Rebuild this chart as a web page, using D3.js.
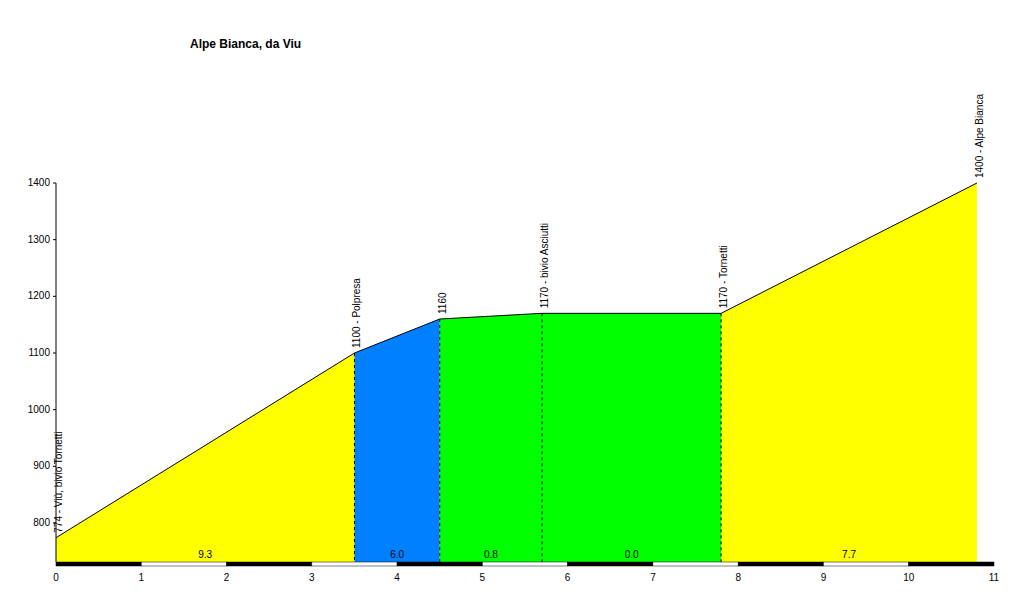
<!DOCTYPE html>
<html><head><meta charset="utf-8">
<script src="https://cdn.jsdelivr.net/npm/d3@7"></script>
<style>body{margin:0;background:#fff}text{font-family:"Liberation Sans",Arial,sans-serif}</style>
</head><body><svg id="chart" width="1024" height="606"></svg>
<script>
const km = [0, 3.5, 4.5, 5.7, 7.8, 10.8];
const alt = [774, 1100, 1160, 1170, 1170, 1400];
const names = ["774 - Viù, bivio Tornetti", "1100 - Polpresa", "1160", "1170 - bivio Asciutti", "1170 - Tornetti", "1400 - Alpe Bianca"];
const grades = ["9.3", "6.0", "0.8", "0.0", "7.7"];
const colors = ["#ffff00", "#0080ff", "#00ff00", "#00ff00", "#ffff00"];
const yTicks = [800, 900, 1000, 1100, 1200, 1300, 1400];

const svg = d3.select("#chart");
const x = d3.scaleLinear().domain([0, 11]).range([56, 994]);
const y = d3.scaleLinear().domain([800, 1400]).range([523, 183]);
const base = 562;

svg.append("text").attr("x", 190).attr("y", 48).attr("font-size", 12).attr("font-weight", "bold").text("Alpe Bianca, da Viu");

for (let i = 0; i < grades.length; i++) {
  svg.append("path")
    .attr("d", `M${x(km[i])},${base}L${x(km[i])},${y(alt[i])}L${x(km[i+1])},${y(alt[i+1])}L${x(km[i+1])},${base}Z`)
    .attr("fill", colors[i]);
  svg.append("line").attr("x1", x(km[i])).attr("y1", y(alt[i])).attr("x2", x(km[i+1])).attr("y2", y(alt[i+1]))
    .attr("stroke", "#000").attr("stroke-width", 1);
  svg.append("text").attr("x", (x(km[i]) + x(km[i+1])) / 2).attr("y", 558).attr("text-anchor", "middle")
    .attr("font-size", 10).text(grades[i]);
}
km.slice(1, -1).forEach(k => {
  const i = km.indexOf(k);
  svg.append("line").attr("x1", x(k)).attr("x2", x(k)).attr("y1", y(alt[i])).attr("y2", base)
    .attr("stroke", "#000").attr("stroke-dasharray", "3,3");
});
km.forEach((k, i) => {
  const px = x(k) + 6, py = y(alt[i]) - 5;
  svg.append("text").attr("transform", `translate(${px},${py}) rotate(-90)`).attr("font-size", 10).text(names[i]);
});

// km bar
d3.range(11).forEach(k => {
  svg.append("rect").attr("x", x(k)).attr("y", base).attr("width", x(k + 1) - x(k)).attr("height", 4)
    .attr("fill", k % 2 ? "#fff" : "#000").attr("stroke", "#000").attr("stroke-width", 0.5);
  });
d3.range(12).forEach(k => {
  svg.append("text").attr("x", x(k)).attr("y", 581).attr("text-anchor", "middle").attr("font-size", 10).text(k);
});

svg.append("line").attr("x1", 56).attr("x2", 56).attr("y1", y(1400)).attr("y2", base).attr("stroke", "#000");
yTicks.forEach(t => {
  svg.append("line").attr("x1", 53).attr("x2", 56).attr("y1", y(t)).attr("y2", y(t)).attr("stroke", "#000");
  svg.append("text").attr("x", 50).attr("y", y(t) + 3).attr("text-anchor", "end").attr("font-size", 10).text(t);
});
</script></body></html>
